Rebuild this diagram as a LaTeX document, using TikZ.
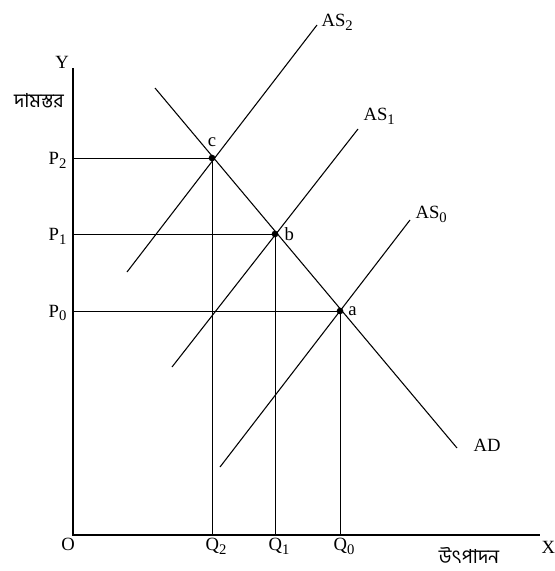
\documentclass[tikz,border=0pt]{standalone}
\usepackage{fontspec}
\setmainfont{Liberation Serif}
\newfontfamily\bnfont[Script=Bengali]{Hind Siliguri}
\usetikzlibrary{positioning}
\newcommand{\lsub}[1]{\raisebox{-0.45ex}{\fontsize{11}{12}\selectfont #1}}

\begin{document}
\begin{tikzpicture}[x=0.75pt, y=-0.75pt,
        axis/.style={line width=0.8pt},
        curve/.style={line width=0.8pt},
        guide/.style={line width=0.7pt},
        dot/.style={circle, fill, inner sep=0pt, minimum size=5pt},
        lbl/.style={font=\fontsize{14}{16}\selectfont, inner sep=1pt},
        bnlbl/.style={font=\bnfont\fontsize{14.5}{16}\selectfont, inner sep=1pt}
        ]
        \useasboundingbox (0,0) rectangle (555,571);
        % axes
        \coordinate (O) at (73,535);
        \coordinate (ytop) at (73,68);
        \coordinate (xend) at (540,535);
        \draw[axis] (ytop) -- (O) -- (xend);
        % equilibrium points
        \node[dot] (c) at (212,158) {};
        \node[dot] (b) at (275,234) {};
        \node[dot] (a) at (340,311) {};
        % price and quantity levels
        \coordinate (p2) at (73,158);
        \coordinate (p1) at (73,234);
        \coordinate (p0) at (73,311);
        \coordinate (q2) at (212,535);
        \coordinate (q1) at (275,535);
        \coordinate (q0) at (340,535);
        \draw[guide] (p2) -- (c.center) -- (q2);
        \draw[guide] (p1) -- (b.center) -- (q1);
        \draw[guide] (p0) -- (a.center) -- (q0);
        % curve ends
        \coordinate (adtop) at (155,88);
        \coordinate (adbot) at (457,448);
        \coordinate (as0top) at (410,220);
        \coordinate (as0bot) at (220,467);
        \coordinate (as1top) at (358,129);
        \coordinate (as1bot) at (172,367);
        \coordinate (as2top) at (317,25);
        \coordinate (as2bot) at (127,272);
        \draw[curve] (adtop) -- (adbot);
        \draw[curve] (as0bot) -- (as0top);
        \draw[curve] (as1bot) -- (as1top);
        \draw[curve] (as2bot) -- (as2top);
        % labels
        \node[lbl, anchor=west] (ad) at (472,445) {AD};
        \node[lbl, anchor=south west] (as0) at (414,224) {AS\lsub{0}};
        \node[lbl, anchor=south west] (as1) at (362,126) {AS\lsub{1}};
        \node[lbl, anchor=south west] (as2) at (320,32) {AS\lsub{2}};
        \node[lbl, right=5pt of a.center] (alab) {a};
        \node[lbl, right=6pt of b.center] (blab) {b};
        \node[lbl, above=7pt of c.center] (clab) {c};
        \node[lbl, anchor=east] (p2lab) at (68,160) {P\lsub{2}};
        \node[lbl, anchor=east] (p1lab) at (68,236) {P\lsub{1}};
        \node[lbl, anchor=east] (p0lab) at (68,313) {P\lsub{0}};
        \node[lbl, anchor=north west] (q2lab) at (204,537) {Q\lsub{2}};
        \node[lbl, anchor=north west] (q1lab) at (267,537) {Q\lsub{1}};
        \node[lbl, anchor=north west] (q0lab) at (332,537) {Q\lsub{0}};
        \node[lbl, anchor=north] (olab) at (68,537) {O};
        \node[lbl, anchor=west] (xlab) at (540,547) {X};
        \node[lbl, anchor=south] (ylab) at (62,70) {Y};
        \node[bnlbl] (plab) at (39,101) {দামস্তর};
        \node[bnlbl] (qlab) at (469,555) {উৎপাদন};
    \end{tikzpicture}
\end{document}
